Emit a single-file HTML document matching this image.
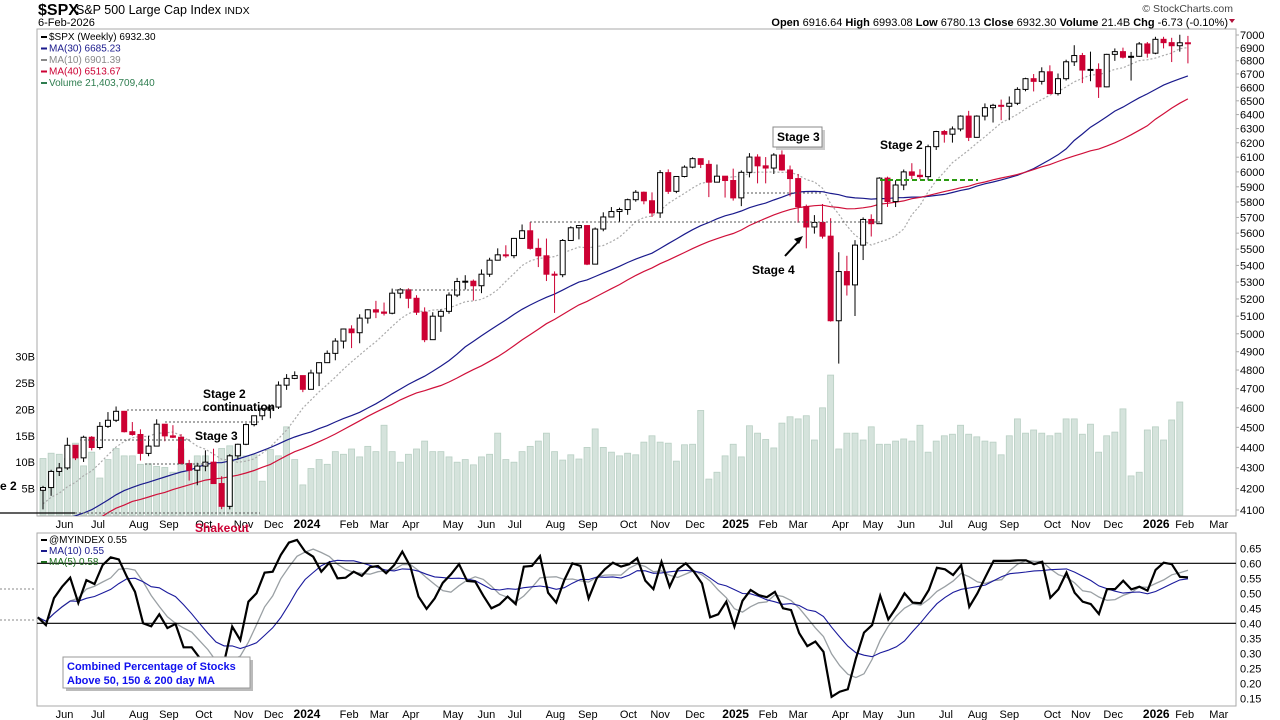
<!DOCTYPE html>
<html><head><meta charset="utf-8">
<style>
body{margin:0;background:#fff;font-family:"Liberation Sans",sans-serif;}
#wrap{position:relative;width:1280px;height:720px;overflow:hidden;}
svg text{font-family:"Liberation Sans",sans-serif;}
</style></head>
<body>
<div id="wrap">
<svg id="chart" width="1280" height="720" viewBox="0 0 1280 720">
  <text x="38" y="15" font-size="16" font-weight="bold">$SPX</text>
  <text x="76" y="14" font-size="12.5">S&amp;P 500 Large Cap Index <tspan font-size="10.5">INDX</tspan></text>
  <text x="38" y="26" font-size="11">6-Feb-2026</text>
  <text x="1233" y="12" font-size="10.5" text-anchor="end" fill="#444">© StockCharts.com</text>
  <text x="1228" y="26" font-size="11" text-anchor="end"><tspan font-weight="bold">Open</tspan> 6916.64  <tspan font-weight="bold">High</tspan> 6993.08  <tspan font-weight="bold">Low</tspan> 6780.13  <tspan font-weight="bold">Close</tspan> 6932.30  <tspan font-weight="bold">Volume</tspan> 21.4B  <tspan font-weight="bold">Chg</tspan> -6.73 (-0.10%)</text>
  <path d="M1229,19 l6,0 l-3,4z" fill="#b0103a"/>
  <g id="main"></g>
  <g id="lower"></g>
</svg>
</div>
<script>
// ---------- DATA ----------
const priorCloses=[4057,3924,4067,3873,3693,3586,3640,3583,3752,3901,3771,3993,3965,4026,4072,3934,3852,3845,3840,3895,3999,3973,4071,4136,4090,4079,3970,4046,3862,3917,3971,4109,4105,4138,4133,4169,4136,4124,4192];
const closes=[4205,4282,4299,4410,4348,4450,4399,4505,4536,4582,4478,4464,4370,4406,4516,4457,4450,4320,4288,4308,4327,4224,4117,4358,4415,4514,4559,4595,4604,4719,4755,4770,
4697,4784,4840,4891,4959,5027,5006,5089,5137,5124,5117,5234,5254,5204,5123,4967,5100,5128,5223,5303,5305,5278,5347,5432,5465,5460,5567,5615,5505,5459,5347,5344,5554,5634,5648,5408,5626,5703,5738,5751,5815,5864,5808,5729,5995,5870,5969,6032,6090,6051,5931,5971,
5942,5827,5997,6101,6041,6026,6115,6013,5955,5770,5639,5668,5581,5074,5363,5283,5525,5687,5660,5958,5803,5912,6000,5977,5968,6173,6279,6260,6297,6389,6238,6389,6450,6467,6460,6482,6584,6664,6644,6716,6553,6664,6792,6840,6729,6734,6603,6849,6870,6827,6834,6930,
6858,6966,6940,6916,6939,6932];
const highs=[4213,4290,4323,4448,4409,4458,4456,4527,4578,4607,4584,4527,4490,4458,4541,4514,4511,4466,4338,4324,4385,4393,4259,4366,4418,4521,4560,4599,4609,4739,4778,4793,
4754,4802,4842,4907,4975,5030,5048,5111,5140,5189,5179,5261,5264,5263,5222,5151,5123,5139,5239,5325,5341,5315,5376,5447,5505,5524,5570,5655,5670,5566,5566,5364,5563,5643,5651,5651,5636,5733,5767,5763,5822,5878,5869,5863,6012,6017,5972,6044,6099,6085,6079,6050,
5966,6022,6010,6128,6120,6101,6128,6147,6043,5986,5783,5715,5787,5695,5481,5459,5556,5700,5720,5964,5968,5944,6016,6059,6018,6187,6284,6290,6315,6395,6427,6395,6481,6478,6509,6532,6600,6671,6699,6750,6765,6703,6808,6920,6860,6870,6780,6853,6895,6901,6868,6945,
6945,6986,6986,6978,7002,6993];
const lows=[4103,4166,4260,4290,4337,4328,4385,4389,4497,4527,4474,4458,4335,4356,4414,4430,4446,4316,4238,4216,4283,4223,4104,4103,4340,4411,4505,4537,4546,4594,4694,4751,
4682,4699,4714,4839,4853,4918,4920,4947,5058,5089,5104,5111,5204,5146,5107,4953,4969,5011,5114,5211,5256,5191,5234,5331,5432,5447,5444,5564,5497,5390,5306,5119,5329,5560,5561,5402,5406,5612,5703,5674,5717,5802,5785,5703,5697,5853,5858,5963,6024,6026,5832,5932,
5829,5809,5773,5963,5923,5923,5986,6008,5837,5666,5505,5597,5566,5069,4835,5220,5101,5433,5579,5767,5768,5767,5878,5952,5952,5943,6150,6201,6201,6281,6212,6236,6358,6343,6360,6360,6469,6570,6569,6620,6550,6539,6650,6760,6631,6645,6521,6600,6799,6817,6650,6830,
6824,6850,6895,6790,6870,6780];
const volumesB=[10.7,11.7,11.5,10.7,13.6,9.3,11.9,7.0,10.5,12.6,11.2,11.2,9.6,9.7,9.2,9.0,8.1,12.5,9.8,11.2,11.2,9.7,12.6,13.1,13.1,11.2,11.4,6.4,12.4,11.2,16.7,10.5,5.7,8.8,10.5,9.6,
12.0,11.5,12.5,11.0,13.0,12.0,17.0,12.0,10.0,11.5,12.5,14.0,12.0,12.0,11.0,10.0,10.5,9.5,11.0,11.5,15.5,10.5,10.0,12.0,13.0,14.0,15.5,
12.0,10.4,11.4,10.6,12.8,16.3,12.8,11.9,11.2,11.7,11.4,13.8,15.0,13.8,13.6,10.2,13.3,13.4,19.8,6.8,8.1,11.2,13.4,11.0,16.9,15.5,14.3,12.7,17.4,18.6,18.2,18.8,14.2,20.3,26.5,12.5,15.5,15.5,14.2,16.7,13.4,13.4,14.0,14.4,14.0,17.0,11.9,14.0,15.0,15.3,17.0,15.3,14.8,14.0,13.8,11.4,15.0,18.2,15.5,16.1,15.5,15.0,15.5,18.2,18.2,15.3,17.2,11.9,15.0,15.7,20.1,7.4,8.1,16.1,16.7,14.2,18.0,21.4];
const myIndex=[0.42,0.394,0.484,0.522,0.552,0.468,0.544,0.531,0.594,0.62,0.613,0.555,0.505,0.40,0.39,0.43,0.384,0.398,0.32,0.32,0.284,0.24,0.21,0.27,0.389,
0.344,0.472,0.50,0.569,0.572,0.628,0.669,0.678,0.639,0.622,0.572,0.602,0.55,0.552,0.572,0.558,0.587,0.591,0.567,0.594,0.639,0.589,0.489,0.448,0.483,
0.535,0.563,0.597,0.541,0.539,0.492,0.45,0.463,0.489,0.464,0.589,0.591,0.624,0.502,0.469,0.544,0.60,0.591,0.483,0.55,0.58,0.602,0.589,0.597,0.617,
0.542,0.514,0.605,0.522,0.58,0.60,0.572,0.533,0.42,0.43,0.472,0.389,0.475,0.511,0.494,0.487,0.505,0.45,0.444,0.367,0.324,0.339,0.305,0.155,0.172,
0.18,0.283,0.369,0.394,0.492,0.413,0.453,0.50,0.469,0.467,0.511,0.585,0.58,0.561,0.594,0.455,0.50,0.555,0.608,0.608,0.608,0.61,0.61,0.597,0.605,
0.485,0.513,0.569,0.502,0.472,0.464,0.431,0.514,0.514,0.542,0.513,0.522,0.509,0.578,0.602,0.597,0.555,0.553];
const priceTicks=[7000,6900,6800,6700,6600,6500,6400,6300,6200,6100,6000,5900,5800,5700,5600,5500,5400,5300,5200,5100,5000,4900,4800,4700,4600,4500,4400,4300,4200,4100];
const volTicks=[30,25,20,15,10,5];
const indexTicks=[0.65,0.60,0.55,0.50,0.45,0.40,0.35,0.30,0.25,0.20,0.15];
const monthLabels=["Jun","Jul","Aug","Sep","Oct","Nov","Dec","2024","Feb","Mar","Apr","May","Jun","Jul","Aug","Sep","Oct","Nov","Dec","2025","Feb","Mar","Apr","May","Jun","Jul","Aug","Sep","Oct","Nov","Dec","2026","Feb","Mar"];
const monthWeekIdx=[2.65,6.77,11.8,15.5,19.8,24.7,28.4,32.5,37.7,41.4,45.3,50.5,54.6,58.1,63.1,67.1,72.1,76.0,80.3,85.3,89.3,93.0,98.2,102.2,106.3,111.2,115.1,119.0,124.3,127.8,131.8,137.1,140.6,144.8];

// ---------- SCALES ----------
const NS='http://www.w3.org/2000/svg';
const L=37,R=1236,TOP=29,BOT=516,LTOP=533,LBOT=706;
const step=8.12, x0=43;
const xw=i=>x0+step*i;
const yP=p=>35+888*(Math.log(7000)-Math.log(p));
const yV=b=>515-5.28*b;
const yI=v=>563.3+(0.6-v)*300;
const xI=i=>1188-(myIndex.length-1-i)*8.1;
function mk(tag,attrs,parent){const e=document.createElementNS(NS,tag);for(const k in attrs)e.setAttribute(k,attrs[k]);parent.appendChild(e);return e;}
const main=document.getElementById('main'), lower=document.getElementById('lower');

const defs=mk('defs',{},main);
const cp=mk('clipPath',{id:'cp'},defs);mk('rect',{x:L,y:TOP,width:R-L,height:BOT-TOP},cp);
const cp2=mk('clipPath',{id:'cp2'},defs);mk('rect',{x:L,y:LTOP,width:R-L,height:LBOT-LTOP},cp2);

let e=mk('rect',{x:L,y:TOP,width:R-L,height:BOT-TOP,fill:'#fff',stroke:'#aaa'},main);


e=mk('rect',{x:L,y:LTOP,width:R-L,height:LBOT-LTOP,fill:'#fff',stroke:'#aaa'},lower);



const pg=mk('g',{'clip-path':'url(#cp)'},main);

volumesB.forEach((b,i)=>{
  const r=mk('rect',{x:xw(i)-3,y:yV(b),width:6,height:515-yV(b),fill:'#d5e3dc',stroke:'#b8cfc3','stroke-width':0.8},pg);
  
  
});

const all=priorCloses.concat(closes), off=priorCloses.length;
function maPts(n){const pts=[];for(let i=0;i<closes.length;i++){const j=i+off;const s=Math.max(0,j-n+1);let sum=0;for(let k=s;k<=j;k++)sum+=all[k];pts.push(xw(i).toFixed(1)+','+yP(sum/(j-s+1)).toFixed(1));}return pts.join(' ');}
e=mk('polyline',{points:maPts(10),fill:'none',stroke:'#aaa','stroke-width':1.2,'stroke-dasharray':'2,2'},pg);


e=mk('polyline',{points:maPts(30),fill:'none',stroke:'#1a1a8c','stroke-width':1.2},pg);


e=mk('polyline',{points:maPts(40),fill:'none',stroke:'#d0103a','stroke-width':1.2},pg);



const refs=[[127,270,410],[165,260,422],[80,190,440],[145,210,464],[75,260,513],[395,480,290],[530,880,222],[743,823,193]];
refs.forEach(r=>{e=mk('line',{x1:r[0],x2:r[1],y1:r[2],y2:r[2],stroke:'#555','stroke-dasharray':'2,2','stroke-width':1},main);

});
e=mk('line',{x1:880,x2:978,y1:180,y2:180,stroke:'#2a9a10','stroke-dasharray':'5,3','stroke-width':2},main);



closes.forEach((c,i)=>{
  const o=i===0?priorCloses[priorCloses.length-1]:closes[i-1];
  const up=c>=o, col=up?'#000':'#cc0033', x=xw(i);
  const g=mk('g',{},pg);
  
  
  mk('line',{x1:x,x2:x,y1:yP(highs[i]),y2:yP(lows[i]),stroke:col,'stroke-width':1},g);
  const yt=yP(Math.max(o,c)), yb=yP(Math.min(o,c));
  mk('rect',{x:x-2.5,y:yt,width:5,height:Math.max(1,yb-yt),fill:up?'#fff':'#cc0033',stroke:col,'stroke-width':1},g);
});

priceTicks.forEach(p=>{e=mk('text',{x:1240,y:yP(p)+4,'font-size':11},main);e.textContent=p;


mk('line',{x1:R,x2:R+3,y1:yP(p),y2:yP(p),stroke:'#aaa'},main);});
volTicks.forEach(v=>{e=mk('text',{x:35,y:yV(v)+4,'font-size':11,'text-anchor':'end'},main);e.textContent=v+'B';

});

monthLabels.forEach((m,k)=>{const bold=/^\d{4}$/.test(m);
 [528,718].forEach((yy,j)=>{e=mk('text',{x:xw(monthWeekIdx[k]),y:yy,'font-size':bold?12:11,'font-weight':bold?'bold':'normal','text-anchor':'middle'},j?lower:main);e.textContent=m;
 
 });});

function txt(s,x,y,opts,name,par){e=mk('text',Object.assign({x:x,y:y,'font-size':12,'font-weight':'bold'},opts||{}),par||main);e.textContent=s;

return e;}
mk('rect',{x:776,y:130,width:49,height:20,fill:'#ccc'},main);
e=mk('rect',{x:773,y:127,width:49,height:20,fill:'#fff',stroke:'#888'},main);


txt('Stage 3',777,141,{},'stage3-top-label');
txt('Stage 2',880,149,{},'stage2-label');
txt('Stage 4',752,274,{},'stage4-label');
e=mk('line',{x1:785,y1:256,x2:798,y2:242,stroke:'#000','stroke-width':2},main);


mk('path',{d:'M803,236 l-9,3 l5,5z',fill:'#000'},main);
txt('Stage 2',203,398,{},'stage2-continuation-label');
txt('continuation',203,411,{},'stage2-continuation-label2');
txt('Stage 3',195,440,{},'stage3-label');
txt('Shakeout',195,532,{fill:'#cc0033'},'shakeout-label');
txt('e 2',0,490,{},'stage2-cut-label');
e=mk('line',{x1:0,x2:75,y1:513,y2:513,stroke:'#000','stroke-width':1.2},main);



const leg=[['$SPX (Weekly) 6932.30','#000'],['MA(30) 6685.23','#1a1a8c'],['MA(10) 6901.39','#888'],['MA(40) 6513.67','#cc0033'],['Volume 21,403,709,440','#2e7d4f']];
leg.forEach((l,k)=>{const yy=40+k*11.5;mk('rect',{x:41,y:yy-4,width:6,height:2,fill:l[1]},main);
 txt(l[0],49,yy,{'font-size':10,'font-weight':'normal',fill:l[1]},'price-legend-entry');});

const lg=mk('g',{'clip-path':'url(#cp2)'},lower);
[0.6,0.4].forEach(v=>{e=mk('line',{x1:L,x2:R,y1:yI(v),y2:yI(v),stroke:'#000','stroke-width':1.2},lower);

});
[589,620].forEach(yy=>{mk('line',{x1:0,x2:36,y1:yy,y2:yy,stroke:'#888','stroke-dasharray':'2,2'},lower);});
function idxMA(n){const pts=[];for(let i=0;i<myIndex.length;i++){const s=Math.max(0,i-n+1);let sum=0;for(let k=s;k<=i;k++)sum+=myIndex[k];pts.push(xI(i).toFixed(1)+','+yI(sum/(i-s+1)).toFixed(1));}return pts.join(' ');}
e=mk('polyline',{points:idxMA(5),fill:'none',stroke:'#9aa0a4','stroke-width':1.3},lg);


e=mk('polyline',{points:idxMA(10),fill:'none',stroke:'#1a1a9c','stroke-width':1.1},lg);


e=mk('polyline',{points:myIndex.map((v,i)=>xI(i).toFixed(1)+','+yI(v).toFixed(1)).join(' '),fill:'none',stroke:'#000','stroke-width':2.2},lg);


indexTicks.forEach(v=>{e=mk('text',{x:1240,y:yI(v)+4,'font-size':11},lower);e.textContent=v.toFixed(2);

});
const leg2=[['@MYINDEX 0.55','#000'],['MA(10) 0.55','#1a1a8c'],['MA(5) 0.58','#1a6a1a']];
leg2.forEach((l,k)=>{const yy=543+k*11;mk('rect',{x:41,y:yy-4,width:6,height:2,fill:l[1]},lower);
 txt(l[0],49,yy,{'font-size':10,'font-weight':'normal',fill:l[1]},'index-legend-entry',lower);});
mk('rect',{x:66,y:660,width:187,height:31,fill:'#bbb'},lower);
e=mk('rect',{x:63,y:657,width:187,height:31,fill:'#fff',stroke:'#999'},lower);


txt('Combined Percentage of Stocks',67,670,{'font-size':11,fill:'#1010ee'},'indicator-description-line1',lower);
txt('Above 50, 150 & 200 day MA',67,684,{'font-size':11,fill:'#1010ee'},'indicator-description-line2',lower);
</script>
</body></html>
